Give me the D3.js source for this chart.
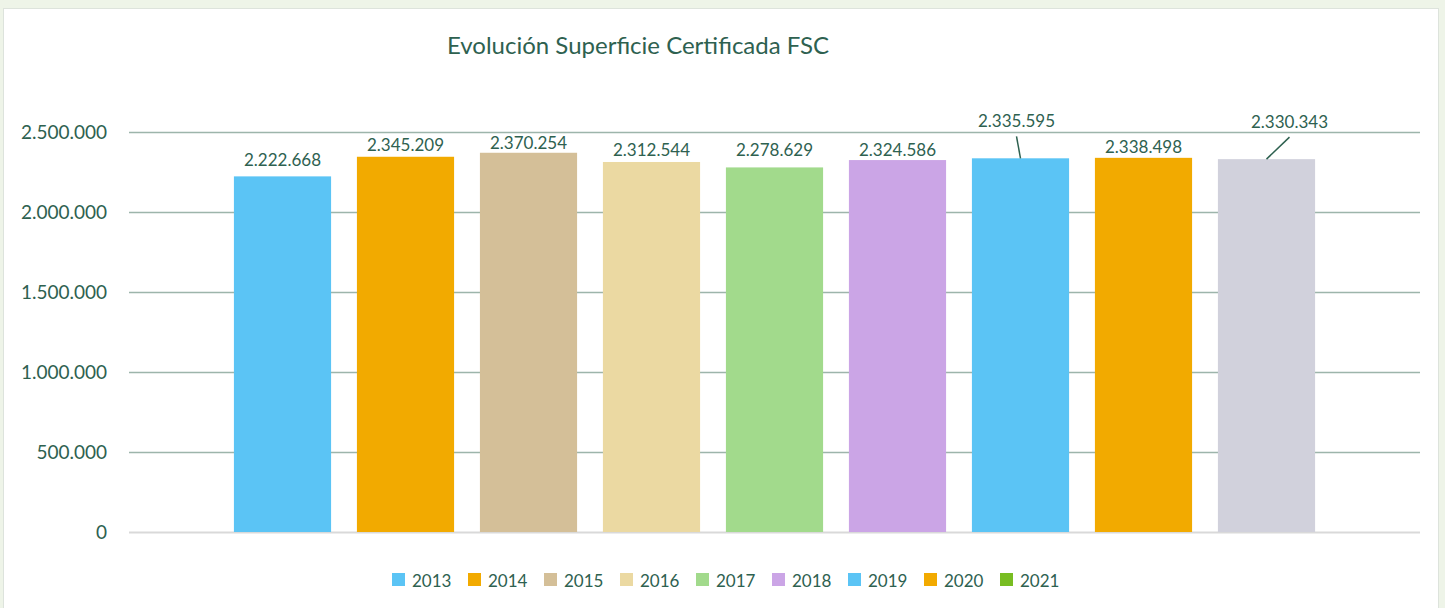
<!DOCTYPE html>
<html>
<head>
<meta charset="utf-8">
<script src="https://cdn.jsdelivr.net/npm/d3@7"></script>
<style>
  html, body { margin: 0; padding: 0; background: #eef4e8; }
  svg { display: block; }
</style>
</head>
<body>
<div id="chart"></div>
<script>
// data
const years = ['2013', '2014', '2015', '2016', '2017', '2018', '2019', '2020', '2021']
const surface = [2222668, 2345209, 2370254, 2312544, 2278629, 2324586, 2335595, 2338498, 2330343]
const barColors = ['#5bc4f5', '#f2aa00', '#d4bf98', '#ebd9a2', '#a2da8c', '#cba5e6', '#5bc4f5', '#f2aa00', '#d1d1dc']
const legendColors = ['#5bc4f5', '#f2aa00', '#d4bf98', '#ebd9a2', '#a2da8c', '#cba5e6', '#5bc4f5', '#f2aa00', '#78bd22']
const yTicks = [0, 500000, 1000000, 1500000, 2000000, 2500000]
const title = 'Evolución Superficie Certificada FSC'

// label nudges (px) – two labels were dragged up with leader lines
const labelDx = [0, 0, 0, 0, 0, 0, -4, 0, 23]
const labelDy = [-17, -12, -10, -12, -18, -11, -38, -11, -38]

const textColor = '#2e6150'
const font = 'Lato, "Open Sans", sans-serif'

let dimensions = {
    width: 1445,
    height: 608,
    plot: { left: 129, right: 1420, top: 132, bottom: 532 },
}

const svg = d3.select('#chart')
    .append('svg')
        .attr('width', dimensions.width)
        .attr('height', dimensions.height)

// panel
svg.append('rect')
    .attr('x', 3.5)
    .attr('y', 8.5)
    .attr('width', 1435)
    .attr('height', 640)
    .attr('fill', '#ffffff')
    .attr('stroke', '#dde3dc')

svg.append('text')
    .attr('x', 638)
    .attr('y', 44)
    .attr('text-anchor', 'middle')
    .attr('dominant-baseline', 'central')
    .attr('fill', textColor)
    .style('font-family', font)
    .style('font-size', '24px')
    .text(title)

// scales
const xScale = d3.scaleBand()
    .domain(years)
    .range([dimensions.plot.left, dimensions.plot.right])
    .paddingInner(0.21)
    .paddingOuter(0.853)

const yScale = d3.scaleLinear()
    .domain([0, 2500000])
    .range([dimensions.plot.bottom, dimensions.plot.top])

const es = d3.formatLocale({ decimal: ',', thousands: '.', grouping: [3], currency: ['', '€'] })
const fmt = es.format(',d')

// grid + y axis
const yAxis = d3.axisLeft(yScale)
    .tickValues(yTicks)
    .tickFormat(fmt)
    .tickSize(-(dimensions.plot.right - dimensions.plot.left))
    .tickPadding(22)

const yAxisGroup = svg.append('g')
    .attr('transform', `translate(${dimensions.plot.left},0)`)
    .call(yAxis)

yAxisGroup.select('.domain').remove()
yAxisGroup.selectAll('.tick line')
    .attr('stroke', d => d === 0 ? '#d9d9d9' : '#9db5ab')
    .attr('stroke-width', d => d === 0 ? 2 : 1.5)
yAxisGroup.selectAll('.tick text')
    .attr('fill', textColor)
    .style('font-family', font)
    .style('font-size', '19px')

// bars
const rows = years.map((y, i) => ({ year: y, value: surface[i], color: barColors[i], dx: labelDx[i], dy: labelDy[i] }))

svg.append('g')
    .selectAll('rect')
    .data(rows)
    .join('rect')
        .attr('x', d => xScale(d.year))
        .attr('y', d => yScale(d.value))
        .attr('width', xScale.bandwidth())
        .attr('height', d => yScale(0) - yScale(d.value))
        .attr('fill', d => d.color)

// leader lines for moved labels
svg.append('g')
    .selectAll('line')
    .data(rows.filter(d => d.dy < -30))
    .join('line')
        .attr('x1', d => xScale(d.year) + xScale.bandwidth() / 2 + d.dx)
        .attr('y1', d => yScale(d.value) + d.dy + 16)
        .attr('x2', d => xScale(d.year) + xScale.bandwidth() / 2)
        .attr('y2', d => yScale(d.value))
        .attr('stroke', textColor)
        .attr('stroke-width', 1.5)

// data labels
svg.append('g')
    .selectAll('text')
    .data(rows)
    .join('text')
        .attr('x', d => xScale(d.year) + xScale.bandwidth() / 2 + d.dx)
        .attr('y', d => yScale(d.value) + d.dy)
        .attr('text-anchor', 'middle')
        .attr('dominant-baseline', 'central')
        .attr('fill', textColor)
        .style('font-family', font)
        .style('font-size', '17px')
        .text(d => fmt(d.value))

// legend
const legendScale = d3.scaleBand()
    .domain(years)
    .range([392, 392 + 76 * years.length])

const legend = svg.append('g')
    .selectAll('g')
    .data(years)
    .join('g')
        .attr('transform', d => `translate(${legendScale(d)},573)`)

legend.append('rect')
    .attr('width', 13)
    .attr('height', 13)
    .attr('fill', (d, i) => legendColors[i])

legend.append('text')
    .attr('x', 20)
    .attr('y', 7)
    .attr('dominant-baseline', 'central')
    .attr('fill', textColor)
    .style('font-family', font)
    .style('font-size', '17px')
    .text(d => d)
</script>
</body>
</html>
